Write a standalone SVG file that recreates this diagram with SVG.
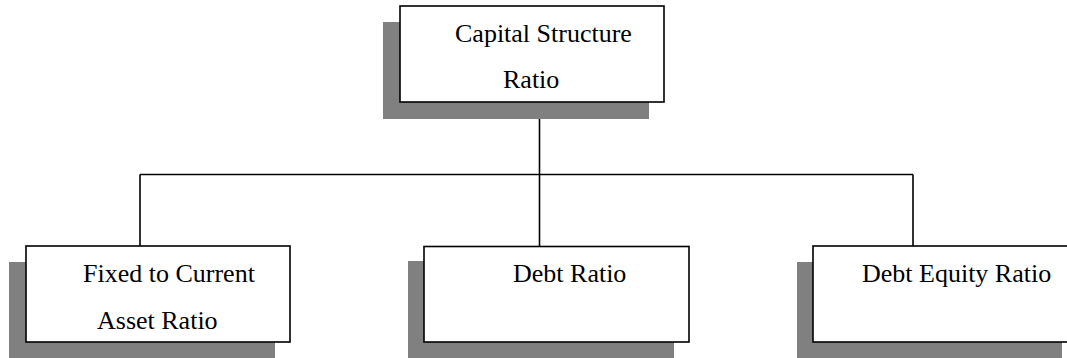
<svg xmlns="http://www.w3.org/2000/svg" width="1067" height="358" viewBox="0 0 1067 358">
<style>
.shadow{fill:#808080;stroke:none}
.box{fill:#fff;stroke:#000;stroke-width:1.6}
.lbl{font-family:"Liberation Serif","Times New Roman",serif;font-size:26px;fill:#000}
.conn{stroke:#000;stroke-width:1.6;fill:none}
</style>
<rect width="1067" height="358" fill="#fff"/>
<g id="connectors">
<path class="conn" d="M539.5 102 V174.5 M140 174.5 H913 M140 174.5 V246 M539.5 174.5 V247 M913 174.5 V246"/>
</g>
<g id="node-capital">
<rect class="shadow" x="383" y="22" width="266" height="97"/>
<rect class="box" x="400" y="6" width="264" height="96"/>
<text class="lbl" x="455" y="42">Capital Structure</text>
<text class="lbl" x="503" y="88">Ratio</text>
</g>
<g id="node-fixed">
<rect class="shadow" x="9" y="262" width="266" height="96"/>
<rect class="box" x="26" y="246" width="264" height="96"/>
<text class="lbl" x="83" y="282">Fixed to Current</text>
<text class="lbl" x="97" y="329">Asset Ratio</text>
</g>
<g id="node-debt">
<rect class="shadow" x="408" y="261" width="266" height="97"/>
<rect class="box" x="424" y="246.5" width="265" height="95.5"/>
<text class="lbl" x="513" y="282">Debt Ratio</text>
</g>
<g id="node-debt-equity">
<rect class="shadow" x="797" y="262" width="265" height="96"/>
<rect class="box" x="813" y="246" width="260" height="96"/>
<text class="lbl" x="862" y="282">Debt Equity Ratio</text>
</g>
</svg>
